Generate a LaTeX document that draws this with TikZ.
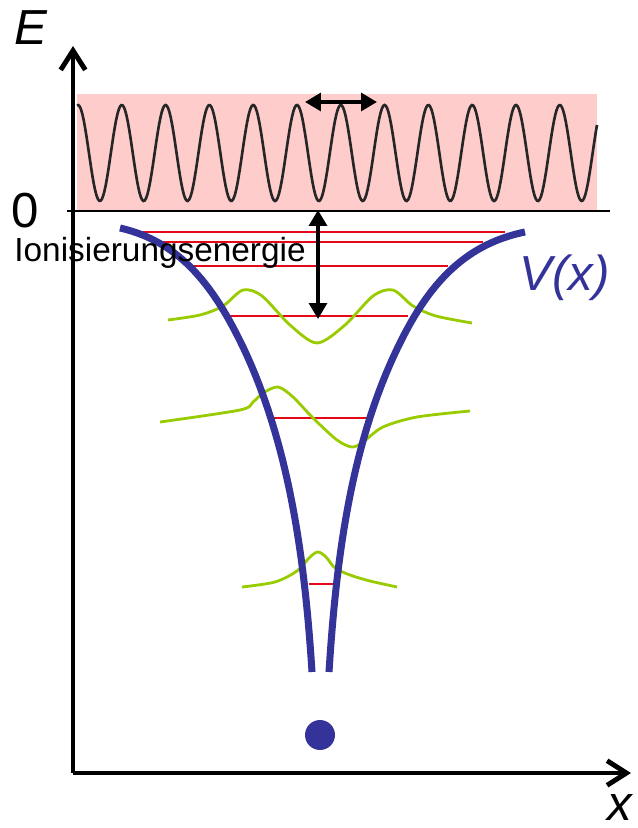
\documentclass[tikz,border=0pt]{standalone}
\usepackage{fontspec}
\setmainfont{Liberation Sans}
\usetikzlibrary{arrows.meta}
\definecolor{potblue}{RGB}{51,51,153}
\definecolor{levelred}{RGB}{228,8,24}
\definecolor{wavegreen}{RGB}{153,204,0}
\definecolor{contpink}{RGB}{255,204,204}
\begin{document}
\begin{tikzpicture}[x=0.02cm,y=-0.02cm,
  axis/.style={line width=2.8pt, -{Straight Barb[length=11pt,width=14pt]}},
  level/.style={levelred, line width=1.6pt},
  wave/.style={wavegreen, line width=1.6pt},
  potential/.style={potblue, line width=4pt},
  dblarrow/.style={line width=2.2pt, {Triangle[length=9pt,width=10pt]}-{Triangle[length=9pt,width=10pt]}},
  big/.style={inner sep=0pt, font=\fontsize{28}{32}\selectfont}]
\useasboundingbox (0,0) rectangle (637,828);
% continuum above zero
\fill[contpink] (77,94) rectangle (597,211);
\draw[line width=1.5pt, black!85, domain=77:597, samples=400] plot (\x,{153-48*cos(8.2192*(\x-78))});
\draw[line width=0.6pt] (67,211) -- (610,211);
% bound levels
\draw[level] (142,232) -- (505,232);
\draw[level] (153,242) -- (483,242);
\draw[level] (193,266) -- (448,266);
\draw[level] (230,316) -- (408,316);
\draw[level] (274,418) -- (368,418);
\draw[level] (309,584) -- (333,584);
% wave functions
\draw[wave] plot[smooth] coordinates {(168,320) (200,315) (223,306) (243,290) (262,296) (290,325) (317,343) (345,325) (373,296) (393,290) (413,306) (436,316) (472,323)};
\draw[wave] plot[smooth] coordinates {(160,422) (240,410) (253,402) (263,393) (278,387) (293,397) (313,418) (337,440) (352,447) (363,442) (383,427) (417,417) (470,411)};
\draw[wave] plot[smooth] coordinates {(242,587) (275,582) (297,571) (310,557) (318,552) (326,557) (335,568) (350,575) (370,581) (397,587)};
% potential V(x)
\draw[potential] (120,228) .. controls (182,242) and (215,289) .. (243,347)
  .. controls (290,446) and (305,562) .. (312,672);
\draw[potential] (525,232) .. controls (461,245) and (426,289) .. (398,347)
  .. controls (350,446) and (336,562) .. (329,672);
% nucleus
\fill[potblue] (320,735) circle (15);
% x and y axes
\coordinate (O) at (73,773);
\coordinate (ytip) at (73,46);
\coordinate (xtip) at (631,773);
\draw[axis] (O) -- (ytip);
\draw[axis] (O) -- (xtip);
% arrows
\coordinate (wl) at (305,102);
\coordinate (wr) at (377,102);
\draw[dblarrow] (wl) -- (wr);
\coordinate (itop) at (318,210);
\coordinate (ibot) at (318,319);
\draw[dblarrow] (itop) -- (ibot);
% labels
\node[big, anchor=base west] (E) at (14,45) {\itshape E};
\node[big, anchor=base west] (zero) at (11,227) {0};
\node[inner sep=0pt, anchor=base west, font=\fontsize{19}{22}\selectfont] (ionis) at (14,261) {Ionisierungsenergie};
\node[big, anchor=base west, text=potblue] (Vx) at (519,290) {\itshape V(x)};
\node[big, anchor=base west] (xlab) at (607,820) {\itshape x};
\end{tikzpicture}
\end{document}
